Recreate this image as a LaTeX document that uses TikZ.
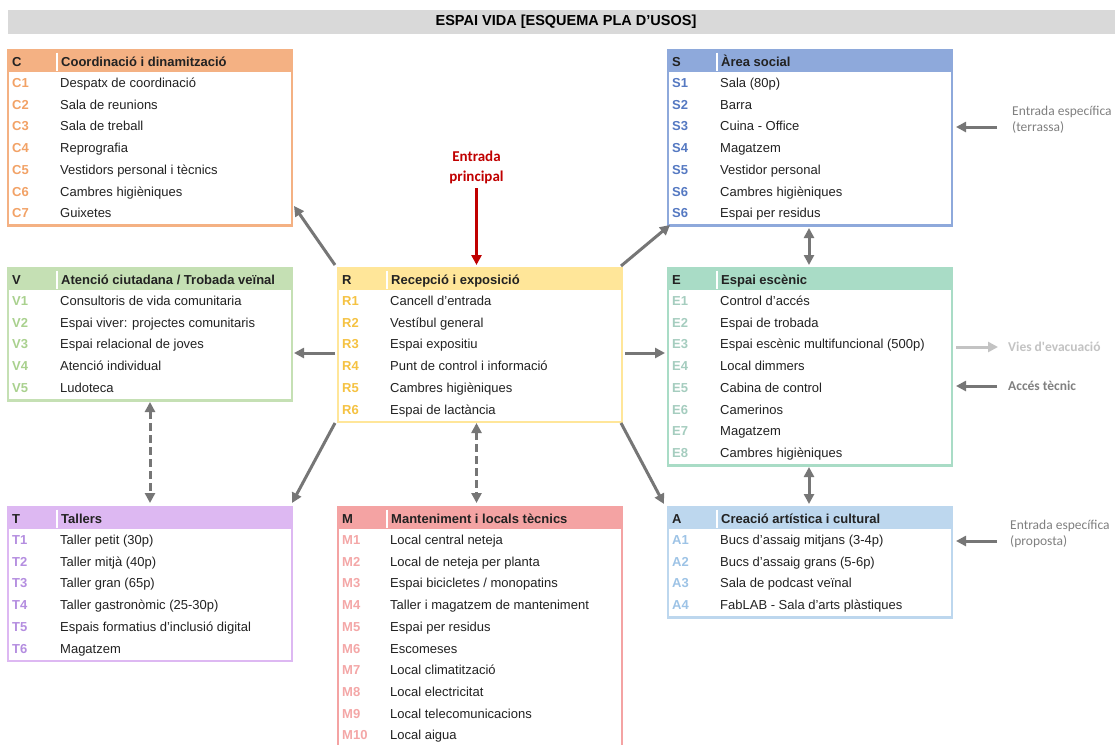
\documentclass[tikz,border=0pt]{standalone}
\usepackage{fontspec}
\setmainfont{Liberation Sans}
\newfontfamily\calib{Carlito}
\usetikzlibrary{arrows.meta}
\definecolor{bdC}{HTML}{F4B183}\definecolor{cdC}{HTML}{F2A266}
\definecolor{bdS}{HTML}{8EA9DB}\definecolor{cdS}{HTML}{5579C2}
\definecolor{bdV}{HTML}{C5E0B4}\definecolor{cdV}{HTML}{A9D18E}
\definecolor{bdR}{HTML}{FFE699}\definecolor{cdR}{HTML}{F5C242}
\definecolor{bdE}{HTML}{A9DCC6}\definecolor{cdE}{HTML}{A5CDBF}
\definecolor{bdT}{HTML}{DDB8F2}\definecolor{cdT}{HTML}{B48DE0}
\definecolor{bdM}{HTML}{F4A3A3}\definecolor{cdM}{HTML}{F4A7A7}
\definecolor{bdA}{HTML}{BDD7EE}\definecolor{cdA}{HTML}{9DC3E6}
\definecolor{titlebar}{HTML}{D9D9D9}
\definecolor{arrgray}{HTML}{767676}
\definecolor{lightarr}{HTML}{C3C3C3}
\definecolor{labgray}{HTML}{808080}
\definecolor{redarr}{HTML}{C00000}
\definecolor{txt}{HTML}{222222}
\newcommand\planbox[8]{%
  \fill[#6] (#2,#3) rectangle (#4,#3+22);
  \pgfmathsetmacro\bw{#4-#2}\pgfmathsetmacro\bh{#5-#3}
  \node[boxframe, draw=#6, minimum width=\bw pt, minimum height=\bh pt, anchor=north west] (#1) at (#2,#3) {};
  \draw[white, line width=1.5pt] (#2+49,#3+2.5) -- (#2+49,#3+21);
  \node[txtnode, font=\fontsize{13}{15}\selectfont\bfseries] (#1-l) at (#2+4,#3+16) {#7};
  \node[txtnode, font=\fontsize{13}{15}\selectfont\bfseries] (#1-t) at (#2+53,#3+16) {#8};
}
\newcommand\planrows[5]{%
  \foreach \c/\t [count=\i] in {#5} {
    \node[txtnode, font=\fontsize{13}{15}\selectfont\bfseries, text=#4] (#1-c\i) at (#2+4,#3+37.5+\i*21.7-21.7) {\c};
    \node[txtnode] (#1-r\i) at (#2+52,#3+37.5+\i*21.7-21.7) {\t};
  }
}
\begin{document}
\begin{tikzpicture}[x=1pt,y=-1pt,
  font=\fontsize{13}{15}\selectfont,
  boxframe/.style={line width=2.6pt, inner sep=0pt, outer sep=0pt},
  txtnode/.style={anchor=base west, inner sep=0pt, text=txt},
  garrow/.style={draw=arrgray, line width=3pt, -{Triangle[length=10pt,width=10pt]}},
  gdouble/.style={draw=arrgray, line width=3pt, {Triangle[length=10pt,width=10pt]}-{Triangle[length=10pt,width=10pt]}},
  gdashed/.style={gdouble, dash pattern=on 8pt off 4pt},
  sidelab/.style={anchor=base west, inner sep=0pt, font=\calib\fontsize{13.5}{16}\selectfont, align=left}
]
\clip (0,0) rectangle (1115,744);
\fill[white] (0,0) rectangle (1115,744);
% title
\fill[titlebar] (8,10) rectangle (1115,34);
\node[inner sep=0pt, font=\fontsize{14.5}{16}\selectfont\bfseries] (title) at (566,21.5) {ESPAI VIDA [ESQUEMA PLA D'USOS]};
% boxes
\planbox{C}{8}{50}{292}{225.7}{bdC}{C}{Coordinació i dinamització}
\planrows{C}{8}{50}{cdC}{C1/{Despatx de coordinació},C2/{Sala de reunions},C3/{Sala de treball},C4/{Reprografia},C5/{Vestidors personal i tècnics},C6/{Cambres higièniques},C7/{Guixetes}}
\planbox{S}{668}{50}{952}{225.7}{bdS}{S}{Àrea social}
\planrows{S}{668}{50}{cdS}{S1/{Sala (80p)},S2/{Barra},S3/{Cuina - Office},S4/{Magatzem},S5/{Vestidor personal},S6/{Cambres higièniques},S6/{Espai per residus}}
\planbox{V}{8}{268}{292}{400.3}{bdV}{V}{Atenció ciutadana / Trobada veïnal}
\planrows{V}{8}{268}{cdV}{V1/{Consultoris de vida comunitaria},V2/{Espai viver: projectes comunitaris},V3/{Espai relacional de joves},V4/{Atenció individual},V5/{Ludoteca}}
\planbox{R}{338}{268}{622}{422}{bdR}{R}{Recepció i exposició}
\planrows{R}{338}{268}{cdR}{R1/{Cancell d'entrada},R2/{Vestíbul general},R3/{Espai expositiu},R4/{Punt de control i informació},R5/{Cambres higièniques},R6/{Espai de lactància}}
\planbox{E}{668}{268}{952}{465.4}{bdE}{E}{Espai escènic}
\planrows{E}{668}{268}{cdE}{E1/{Control d'accés},E2/{Espai de trobada},E3/{Espai escènic multifuncional (500p)},E4/{Local dimmers},E5/{Cabina de control},E6/{Camerinos},E7/{Magatzem},E8/{Cambres higièniques}}
\planbox{T}{8}{507}{292}{661}{bdT}{T}{Tallers}
\planrows{T}{8}{507}{cdT}{T1/{Taller petit (30p)},T2/{Taller mitjà (40p)},T3/{Taller gran (65p)},T4/{Taller gastronòmic (25-30p)},T5/{Espais formatius d'inclusió digital},T6/{Magatzem}}
\planbox{M}{338}{507}{622}{770}{bdM}{M}{Manteniment i locals tècnics}
\planrows{M}{338}{507}{cdM}{M1/{Local central neteja},M2/{Local de neteja per planta},M3/{Espai bicicletes / monopatins},M4/{Taller i magatzem de manteniment},M5/{Espai per residus},M6/{Escomeses},M7/{Local climatització},M8/{Local electricitat},M9/{Local telecomunicacions},M10/{Local aigua}}
\planbox{A}{668}{507}{952}{617.6}{bdA}{A}{Creació artística i cultural}
\planrows{A}{668}{507}{cdA}{A1/{Bucs d'assaig mitjans (3-4p)},A2/{Bucs d'assaig grans (5-6p)},A3/{Sala de podcast veïnal},A4/{FabLAB - Sala d'arts plàstiques}}
% connector end points
\coordinate (rC) at (335,265); \coordinate (cR) at (294,206);
\coordinate (rV) at (335,353); \coordinate (vR) at (294,353);
\coordinate (rS) at (621,266); \coordinate (sR) at (670,225);
\coordinate (rE) at (625,353); \coordinate (eR) at (665,353);
\coordinate (rT) at (335,423); \coordinate (tR) at (292,503);
\coordinate (rA) at (621,423); \coordinate (aR) at (664,504);
\coordinate (rM) at (476.5,423); \coordinate (mR) at (476.5,503);
\coordinate (vT) at (150,402); \coordinate (tV) at (150,503);
\coordinate (sE) at (809,228); \coordinate (eS) at (809,265);
\coordinate (eA) at (809,467); \coordinate (aE) at (809,504);
\draw[garrow] (rC) -- (cR);
\draw[garrow] (rV) -- (vR);
\draw[garrow] (rS) -- (sR);
\draw[garrow] (rE) -- (eR);
\draw[garrow] (rT) -- (tR);
\draw[garrow] (rA) -- (aR);
\draw[gdashed] (rM) -- (mR);
\draw[gdashed] (vT) -- (tV);
\draw[gdouble] (sE) -- (eS);
\draw[gdouble] (eA) -- (aE);
% main entrance
\node[inner sep=0pt, align=center, text=redarr, font=\calib\bfseries\fontsize{15}{20}\selectfont] (entr) at (476.5,167) {Entrada\\principal};
\coordinate (entrT) at (476.5,188);
\coordinate (entrR) at (476.5,265);
\draw[draw=redarr, line width=2.8pt, -{Triangle[length=10pt,width=10pt]}] (entrT) -- (entrR);
% side entrances
\node[sidelab, text=labgray] (labS) at (1012,131) {Entrada específica\\(terrassa)};
\coordinate (labSa) at (997,127); \coordinate (sSide) at (956,127);
\draw[garrow] (labSa) -- (sSide);
\node[sidelab, text=lightarr, font=\calib\bfseries\fontsize{13.5}{16}\selectfont] (labEv) at (1008,351.5) {Vies d'evacuació};
\coordinate (eSide1) at (956,347); \coordinate (labEva) at (998,347);
\draw[garrow, draw=lightarr] (eSide1) -- (labEva);
\node[sidelab, text=labgray, font=\calib\bfseries\fontsize{13.5}{16}\selectfont] (labAc) at (1008,390.5) {Accés tècnic};
\coordinate (labAca) at (997,386); \coordinate (eSide2) at (956,386);
\draw[garrow] (labAca) -- (eSide2);
\node[sidelab, text=labgray] (labA) at (1010,545.5) {Entrada específica\\(proposta)};
\coordinate (labAa) at (997,541); \coordinate (aSide) at (956,541);
\draw[garrow] (labAa) -- (aSide);
\end{tikzpicture}
\end{document}
